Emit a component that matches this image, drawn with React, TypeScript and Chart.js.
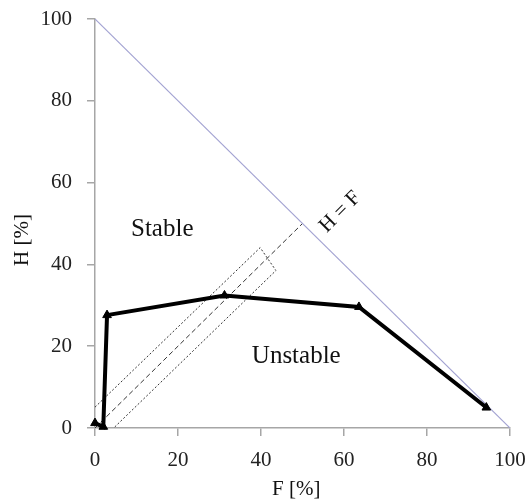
import React, { useEffect, useRef } from "react";
import { Chart, registerables } from "chart.js";

Chart.register(...registerables);

// Measured series (F [%], H [%])
const seriesF = [0, 2, 2.9, 31.2, 63.6, 94.3];
const seriesH = [1.2, 0.3, 27.6, 32.4, 29.6, 5.0];

// Stability boundary H + F = 100
const boundaryF = [0, 100];
const boundaryH = [100, 0];

// H = F reference line
const equalF = [0, 50];
const equalH = [0, 50];

// Dashed band around H = F
const bandF = [0, 39.8, 43.6, 4.5];
const bandH = [5.1, 44.1, 38.5, 0];

const tickValues = [0, 20, 40, 60, 80, 100];

const FONT = "'Liberation Serif', 'DejaVu Serif', serif";

const toPts = (xs: number[], ys: number[]) => xs.map((x, i) => ({ x, y: ys[i] }));

const labelsPlugin = {
  id: "labels",
  afterDraw(chart: any) {
    const { ctx, scales } = chart;
    const sx = scales.x;
    const sy = scales.y;
    ctx.save();
    ctx.fillStyle = "#111";
    ctx.font = `25px ${FONT}`;
    ctx.textAlign = "center";
    ctx.textBaseline = "alphabetic";
    ctx.fillText("Stable", sx.getPixelForValue(16.2), sy.getPixelForValue(46.9));
    ctx.fillText("Unstable", sx.getPixelForValue(48.5), sy.getPixelForValue(15.9));

    ctx.font = `21px ${FONT}`;
    ctx.textBaseline = "middle";
    ctx.save();
    ctx.translate(sx.getPixelForValue(59.1), sy.getPixelForValue(52.8));
    ctx.rotate(-Math.PI / 4);
    ctx.fillText("H = F", 0, 0);
    ctx.restore();

    // axis titles
    ctx.fillText("F [%]", sx.getPixelForValue(48.5), 489);
    ctx.save();
    ctx.translate(22, 240);
    ctx.rotate(-Math.PI / 2);
    ctx.fillText("H [%]", 0, 0);
    ctx.restore();
    ctx.restore();
  },
};

const zeroPad = (s: any) => {
  s.paddingTop = 0;
  s.paddingBottom = 0;
  s.paddingLeft = 0;
  s.paddingRight = 0;
};

export default function App() {
  const ref = useRef<HTMLCanvasElement | null>(null);
  useEffect(() => {
    if (!ref.current) return;
    const axisColor = "#a6a6a6";
    const chart = new Chart(ref.current, {
      type: "scatter",
      data: {
        datasets: [
          {
            data: toPts(seriesF, seriesH),
            showLine: true,
            borderColor: "#000",
            backgroundColor: "#000",
            borderWidth: 4,
            pointStyle: "triangle",
            pointRadius: 5,
            pointBorderWidth: 1,
            clip: false,
          } as any,
          {
            data: toPts(boundaryF, boundaryH),
            showLine: true,
            borderColor: "#a3a3d2",
            borderWidth: 1.2,
            pointRadius: 0,
          },
          {
            data: toPts(equalF, equalH),
            showLine: true,
            borderColor: "#333",
            borderWidth: 1,
            borderDash: [5, 3],
            pointRadius: 0,
          },
          {
            data: toPts(bandF, bandH),
            showLine: true,
            borderColor: "#333",
            borderWidth: 1,
            borderDash: [2, 2],
            pointRadius: 0,
          },
        ],
      },
      options: {
        animation: false,
        responsive: false,
        events: [],
        layout: { padding: { top: 19, right: 16, left: 0, bottom: 0 } },
        plugins: { legend: { display: false }, tooltip: { enabled: false } },
        scales: {
          x: {
            type: "linear",
            min: 0,
            max: 100,
            afterFit: (s: any) => {
              s.height = 73;
              zeroPad(s);
            },
            afterBuildTicks: (s: any) => {
              s.ticks = tickValues.map((v) => ({ value: v }));
            },
            grid: { drawOnChartArea: false, drawTicks: true, tickLength: 8, color: axisColor, lineWidth: 1.5 },
            border: { color: axisColor, width: 1.5 },
            ticks: { color: "#222", font: { family: FONT, size: 21 }, padding: 12, maxRotation: 0 },
          },
          y: {
            type: "linear",
            min: 0,
            max: 100,
            afterFit: (s: any) => {
              s.width = 95;
              zeroPad(s);
            },
            afterBuildTicks: (s: any) => {
              s.ticks = tickValues.map((v) => ({ value: v }));
            },
            grid: { drawOnChartArea: false, drawTicks: true, tickLength: 8, color: axisColor, lineWidth: 1.5 },
            border: { color: axisColor, width: 1.5 },
            ticks: { color: "#222", font: { family: FONT, size: 21 }, padding: 15 },
          },
        },
      },
      plugins: [labelsPlugin],
    });
    return () => chart.destroy();
  }, []);
  return (
    <div style={{ position: "absolute", left: 0, top: 0, width: 526, height: 501, background: "#fff" }}>
      <canvas ref={ref} width={526} height={501} />
    </div>
  );
}
